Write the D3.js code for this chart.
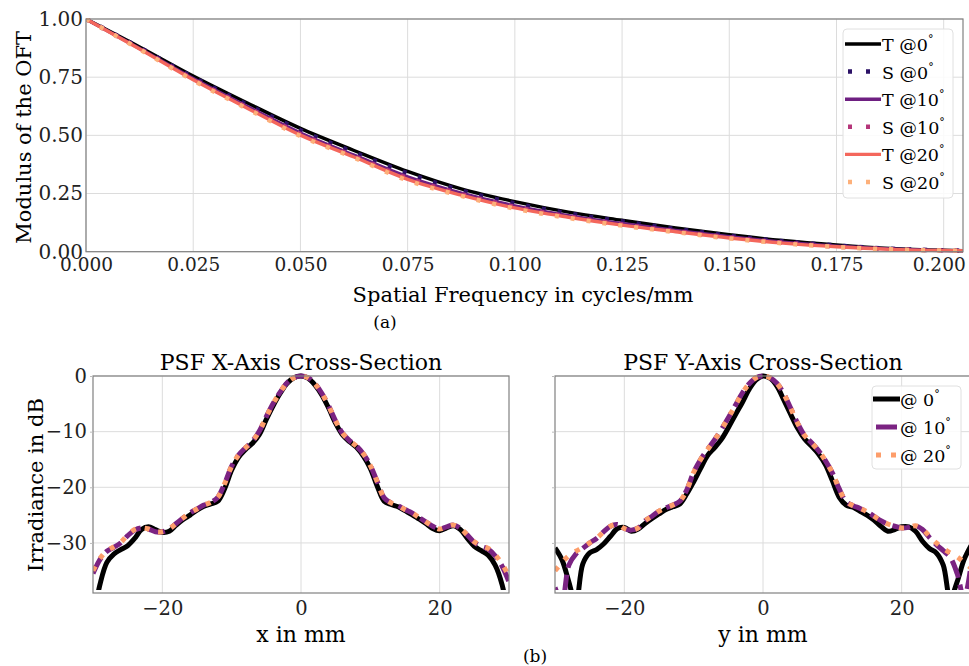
<!DOCTYPE html>
<meta charset="utf-8">
<head>
  <title>OTF and PSF cross-sections</title>
  <script src="https://d3js.org/d3.v7.min.js"></script>
  <style>
    body { margin: 0; background: #fff; }
    svg, svg text { font-family: "DejaVu Serif", serif !important; }
    .grid line { stroke: #dcdcdc; stroke-width: 1; }
    .frame { fill: none; stroke: #808080; stroke-width: 1.2; }
    .tick text { fill: #222; }
  </style>
</head>
<body>
<div id="chart"></div>
<script>
// ---- (a) modulus of the OTF ----
var freq = [0, 0.0125, 0.025, 0.0375, 0.05, 0.0625, 0.075, 0.0875, 0.1, 0.1125, 0.125, 0.1375, 0.15, 0.1625, 0.175, 0.1875, 0.2, 0.205];
var otfT0  = [1, 0.880, 0.755, 0.640, 0.530, 0.435, 0.345, 0.270, 0.215, 0.170, 0.135, 0.102, 0.073, 0.048, 0.029, 0.014, 0.006, 0.004];
var otfS0  = [1, 0.877, 0.750, 0.633, 0.522, 0.427, 0.337, 0.263, 0.208, 0.165, 0.130, 0.098, 0.069, 0.045, 0.027, 0.013, 0.006, 0.004];
var otfT10 = [1, 0.873, 0.744, 0.625, 0.510, 0.415, 0.322, 0.252, 0.197, 0.155, 0.121, 0.091, 0.064, 0.041, 0.024, 0.012, 0.005, 0.004];
var otfS10 = [1, 0.872, 0.741, 0.621, 0.505, 0.410, 0.316, 0.247, 0.192, 0.151, 0.117, 0.088, 0.061, 0.039, 0.022, 0.011, 0.005, 0.004];
var otfT20 = [1, 0.871, 0.739, 0.618, 0.501, 0.407, 0.311, 0.243, 0.188, 0.148, 0.114, 0.086, 0.059, 0.037, 0.021, 0.010, 0.005, 0.004];
var otfS20 = [1, 0.870, 0.736, 0.615, 0.497, 0.404, 0.306, 0.240, 0.185, 0.145, 0.112, 0.084, 0.057, 0.036, 0.020, 0.010, 0.005, 0.004];
var otfNames = ["T @0", "S @0", "T @10", "S @10", "T @20", "S @20"];
var otfTicksX = [0, 0.025, 0.05, 0.075, 0.1, 0.125, 0.15, 0.175, 0.2];
var otfTicksY = [0, 0.25, 0.5, 0.75, 1];

// ---- (b) PSF cross-sections, dB ----
var pos = d3.range(-30, 31, 1);
var psfX0  = [-44,-37.5,-33.5,-32,-31.2,-30.5,-29.2,-27.6,-27.1,-27.6,-28.1,-27.9,-26.8,-25.8,-25,-24.1,-23.4,-23,-22.5,-20.2,-16.9,-14.6,-13.2,-12.1,-10.5,-7.8,-5.3,-3.1,-1.3,-0.3,0,-0.4,-1.6,-3.4,-5.8,-8.5,-10.6,-11.8,-12.8,-14.4,-16.6,-19.8,-22.5,-23.1,-23.5,-24.2,-24.9,-25.7,-26.5,-27.4,-27.8,-27.3,-26.9,-27.6,-29.2,-30.6,-31.4,-32.2,-34,-37.5,-44];
var psfX10 = [-35.5,-33,-31.5,-30.8,-30,-28.7,-27.7,-27.3,-27.5,-28,-28,-27.5,-26.5,-25.5,-24.6,-23.9,-23.2,-22.7,-21.8,-19.3,-16.2,-14.2,-12.9,-11.7,-9.9,-7.3,-4.9,-2.9,-1.2,-0.3,0,-0.3,-1.4,-3.1,-5.4,-8.1,-10.3,-11.6,-12.6,-14,-16.1,-19,-21.9,-22.8,-23.3,-24,-24.6,-25.4,-26.2,-27,-27.5,-27.1,-26.8,-27.4,-28.6,-29.9,-30.6,-31.1,-32.3,-34.2,-37];
var psfX20 = [-35,-32.8,-31.4,-30.7,-29.9,-28.6,-27.6,-27.3,-27.5,-28,-28,-27.5,-26.5,-25.5,-24.6,-23.9,-23.2,-22.7,-21.8,-19.3,-16.2,-14.2,-12.9,-11.7,-9.9,-7.3,-4.9,-2.9,-1.2,-0.3,0,-0.3,-1.4,-3.1,-5.4,-8.1,-10.3,-11.6,-12.6,-14,-16.1,-19,-21.9,-22.8,-23.3,-24,-24.6,-25.4,-26.2,-27,-27.5,-27.1,-26.8,-27.4,-28.6,-29.8,-30.5,-31,-32.1,-33.8,-36];
var psfY0  = [-30.9,-33,-37,-41,-33.8,-31.8,-31.2,-30.2,-28.8,-27.4,-27.2,-27.9,-27.5,-26.5,-25.6,-24.8,-24,-23.5,-23,-21.2,-19,-16.6,-14.3,-12.9,-11.4,-9.3,-7,-4.8,-2.4,-0.7,0,-0.4,-1.8,-4.3,-6.9,-9.4,-11.3,-12.6,-14,-15.9,-18.8,-21.8,-23.2,-23.6,-24.3,-25,-25.9,-27,-27.9,-27.6,-27.1,-27.1,-27.9,-29.7,-31,-31.8,-34,-40,-37,-33,-30.5];
var psfY10 = [-38,-40.5,-34,-32,-31,-30,-29.2,-28,-27,-26.7,-27.4,-27.7,-27.3,-26,-25.2,-24.3,-23.7,-23.2,-22.5,-20.5,-17.3,-15,-13.2,-11.5,-9.6,-7.5,-5.3,-3.1,-1.4,-0.3,0,-0.3,-1.3,-3.2,-5.8,-8.5,-10.7,-12,-13.4,-15.2,-17.4,-20.3,-22.6,-23.3,-23.8,-24.4,-25.2,-26,-26.6,-27,-27.3,-27.2,-26.9,-27.6,-29,-30.3,-31.4,-32.6,-35.5,-40,-34];
var psfY20 = [-35,-33.5,-32.3,-31.5,-30.8,-30,-29.2,-28,-27,-26.7,-27.4,-27.7,-27.3,-26,-25.2,-24.3,-23.7,-23.2,-22.5,-20.5,-17.3,-15,-13.2,-11.5,-9.6,-7.5,-5.3,-3.1,-1.4,-0.3,0,-0.3,-1.3,-3.2,-5.8,-8.5,-10.7,-12,-13.4,-15.2,-17.4,-20.3,-22.6,-23.3,-23.8,-24.4,-25.2,-26,-26.6,-27,-27.3,-27.2,-26.9,-27.5,-28.8,-30,-31,-31.8,-32.5,-33.5,-34.5];
var psfNames = ["@ 0", "@ 10", "@ 20"];
var psfTicksX = [-20, 0, 20];
var psfTicksY = [0, -10, -20, -30];

var W = 969, H = 666;
var svg = d3.select("#chart").append("svg").attr("width", W).attr("height", H);
var defs = svg.append("defs");

// magma-ish colours
var otfColors = ["#000000", "#2b1166", "#6e1f81", "#b5367a", "#f4675c", "#fdb07a"];
var otfStyles = [null, "4,12", null, "4,12", null, "4,12"];
var psfColors = ["#000000", "#7b2382", "#fd9d6a"];
var psfStyles = [null, "18,7", "5,9"];

function degLabel(sel, txt) {
  sel.append("tspan").text(txt);
  sel.append("tspan").text("\u00B0").attr("dy", -8).attr("font-size", "11px");
}

function gridAndFrame(g, x, y, xt, yt, w, h) {
  var gr = g.append("g").attr("class", "grid");
  gr.selectAll(".vx").data(xt).enter().append("line")
    .attr("x1", d => x(d)).attr("x2", d => x(d)).attr("y1", 0).attr("y2", h);
  gr.selectAll(".hy").data(yt).enter().append("line")
    .attr("x1", 0).attr("x2", w).attr("y1", d => y(d)).attr("y2", d => y(d));
}

// ================= (a) =================
var A = {left: 86, right: 963, top: 19, bottom: 251.7};
var aw = A.right - A.left, ah = A.bottom - A.top;
var xa = d3.scaleLinear().domain([0, 0.2045]).range([0, aw]);
var ya = d3.scaleLinear().domain([0, 1]).range([ah, 0]);
var ga = svg.append("g").attr("transform", "translate(" + A.left + "," + A.top + ")");
gridAndFrame(ga, xa, ya, otfTicksX, otfTicksY, aw, ah);

defs.append("clipPath").attr("id", "clipA").append("rect").attr("width", aw).attr("height", ah + 2).attr("y", -1);
var otfSeries = [otfT0, otfS0, otfT10, otfS10, otfT20, otfS20];
var lineA = d3.line().x((d, i) => xa(freq[i])).y(d => ya(d)).curve(d3.curveMonotoneX);
ga.append("g").attr("clip-path", "url(#clipA)").selectAll("path").data(otfSeries).enter().append("path")
  .attr("d", d => lineA(d))
  .attr("fill", "none")
  .attr("stroke", (d, i) => otfColors[i])
  .attr("stroke-width", (d, i) => otfStyles[i] ? 4.5 : 3.4)
  .attr("stroke-dasharray", (d, i) => otfStyles[i]);

ga.append("rect").attr("class", "frame").attr("width", aw).attr("height", ah);

var xAxisA = ga.append("g").attr("transform", "translate(0," + ah + ")")
  .call(d3.axisBottom(xa).tickValues(otfTicksX).tickFormat(d3.format(".3f")).tickSize(0).tickPadding(6))
  .call(g => g.select(".domain").remove());
xAxisA.selectAll("text").attr("font-size", "18.5px");
// last label sits against the page edge, nudge it in like the original
xAxisA.selectAll("text").filter(d => d === 0.2).attr("dx", -5);
ga.append("g")
  .call(d3.axisLeft(ya).tickValues(otfTicksY).tickFormat(d3.format(".2f")).tickSize(0).tickPadding(3))
  .call(g => g.select(".domain").remove())
  .selectAll("text").attr("font-size", "20px");

svg.append("text").attr("x", 523).attr("y", 302).attr("text-anchor", "middle")
  .attr("font-size", "21px").text("Spatial Frequency in cycles/mm");
svg.append("text").attr("transform", "translate(31," + (A.top + ah / 2 + 2) + ") rotate(-90)")
  .attr("text-anchor", "middle").attr("font-size", "21px").text("Modulus of the OFT");
svg.append("text").attr("x", 385).attr("y", 328).attr("text-anchor", "middle").attr("font-size", "17px").text("(a)");

// legend (a)
var la = svg.append("g").attr("transform", "translate(843,29)");
la.append("rect").attr("width", 110).attr("height", 169).attr("rx", 4)
  .attr("fill", "#fff").attr("fill-opacity", 0.85).attr("stroke", "#e0e0e0");
otfNames.forEach(function(n, i) {
  var yy = 15 + i * 27.6;
  la.append("line").attr("x1", 2).attr("x2", 38).attr("y1", yy).attr("y2", yy)
    .attr("stroke", otfColors[i]).attr("stroke-width", otfStyles[i] ? 4.5 : 3.4)
    .attr("stroke-dasharray", otfStyles[i] ? "4,14" : null).attr("stroke-dashoffset", otfStyles[i] ? -3 : 0);
  var t = la.append("text").attr("x", 39).attr("y", yy + 7).attr("font-size", "17.5px");
  degLabel(t, n);
});

// ================= (b) =================
function psfPanel(left, series, title, xlabel, showY, clipId) {
  var P = {left: left, top: 376, w: 416, h: 217};
  var x = d3.scaleLinear().domain([-30, 30]).range([0, P.w]);
  var y = d3.scaleLinear().domain([-39, 0]).range([P.h, 0]);
  var g = svg.append("g").attr("transform", "translate(" + P.left + "," + P.top + ")");
  gridAndFrame(g, x, y, psfTicksX, psfTicksY, P.w, P.h);
  defs.append("clipPath").attr("id", clipId).append("rect").attr("width", P.w).attr("height", P.h + 1).attr("y", -4);
  var line = d3.line().x((d, i) => x(pos[i])).y(d => y(d)).curve(d3.curveCatmullRom);
  g.append("g").attr("clip-path", "url(#" + clipId + ")").selectAll("path").data(series).enter().append("path")
    .attr("d", d => line(d)).attr("fill", "none")
    .attr("stroke", (d, i) => psfColors[i]).attr("stroke-width", 5)
    .attr("stroke-dasharray", (d, i) => psfStyles[i]);
  g.append("rect").attr("class", "frame").attr("width", P.w).attr("height", P.h);
  g.append("g").attr("transform", "translate(0," + P.h + ")")
    .call(d3.axisBottom(x).tickValues(psfTicksX).tickFormat(d => d < 0 ? "\u2212" + Math.abs(d) : d).tickSize(0).tickPadding(8))
    .call(a => a.select(".domain").remove())
    .selectAll("text").attr("font-size", "19.5px");
  var ay = g.append("g")
    .call(d3.axisLeft(y).tickValues(psfTicksY).tickFormat(d => showY ? (d < 0 ? "\u2212" + Math.abs(d) : d) : "").tickSize(3).tickPadding(3))
    .call(a => a.select(".domain").remove());
  ay.selectAll("line").attr("stroke", "#bbb");
  ay.selectAll("text").attr("font-size", "19.5px");
  svg.append("text").attr("x", P.left + x(0)).attr("y", 370).attr("text-anchor", "middle")
    .attr("font-size", "22px").text(title);
  svg.append("text").attr("x", P.left + x(0)).attr("y", 642).attr("text-anchor", "middle")
    .attr("font-size", "22px").text(xlabel);
  return P;
}

psfPanel(93, [psfX0, psfX10, psfX20], "PSF X-Axis Cross-Section", "x in mm", true, "clipBX");
psfPanel(555, [psfY0, psfY10, psfY20], "PSF Y-Axis Cross-Section", "y in mm", false, "clipBY");

svg.append("text").attr("transform", "translate(43,485) rotate(-90)")
  .attr("text-anchor", "middle").attr("font-size", "21px").text("Irradiance in dB");
svg.append("text").attr("x", 535).attr("y", 662).attr("text-anchor", "middle").attr("font-size", "17px").text("(b)");

// legend (b)
var lb = svg.append("g").attr("transform", "translate(872,386)");
lb.append("rect").attr("width", 89).attr("height", 83).attr("rx", 4)
  .attr("fill", "#fff").attr("fill-opacity", 0.85).attr("stroke", "#e0e0e0");
psfNames.forEach(function(n, i) {
  var yy = 13 + i * 28;
  lb.append("line").attr("x1", 1).attr("x2", 28).attr("y1", yy).attr("y2", yy)
    .attr("stroke", psfColors[i]).attr("stroke-width", 5)
    .attr("stroke-dasharray", i === 1 ? "21,7" : (i === 2 ? "5,10" : null))
    .attr("stroke-dashoffset", i === 1 ? -3 : (i === 2 ? -3 : 0));
  var t = lb.append("text").attr("x", 28).attr("y", yy + 7).attr("font-size", "17.5px");
  degLabel(t, n);
});
</script>
</body>
